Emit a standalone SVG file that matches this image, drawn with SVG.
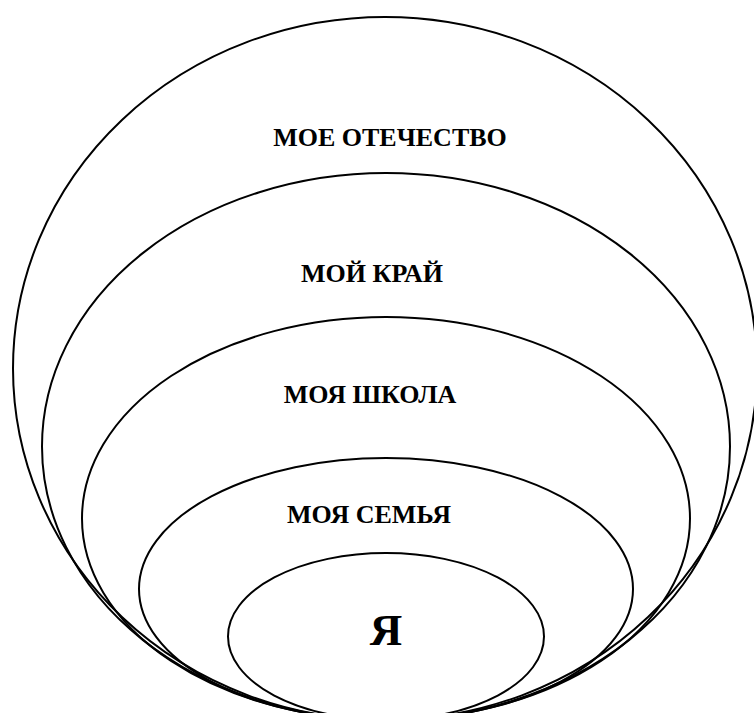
<svg xmlns="http://www.w3.org/2000/svg" width="754" height="713" viewBox="0 0 754 713">
<style>
.ring{fill:none;stroke:#000;stroke-width:2}
.lbl{font-family:"Liberation Serif","Times New Roman",serif;font-weight:bold;font-size:26px;fill:#000;text-anchor:middle}
</style>
<rect width="754" height="713" fill="#fff"/>
<g id="otechestvo">
<ellipse class="ring" cx="385" cy="368.5" rx="372" ry="351.5"/>
<text class="lbl" x="390" y="146">МОЕ ОТЕЧЕСТВО</text>
</g>
<g id="krai">
<ellipse class="ring" cx="386" cy="446.5" rx="344" ry="273.5"/>
<text class="lbl" x="372" y="282">МОЙ КРАЙ</text>
</g>
<g id="shkola">
<ellipse class="ring" cx="386" cy="518.5" rx="304" ry="201.5"/>
<text class="lbl" x="370" y="403">МОЯ ШКОЛА</text>
</g>
<g id="semya">
<ellipse class="ring" cx="386" cy="589" rx="247" ry="131"/>
<text class="lbl" x="369" y="523">МОЯ СЕМЬЯ</text>
</g>
<g id="ya">
<ellipse class="ring" cx="386" cy="636.5" rx="158" ry="83.5"/>
<text class="lbl" x="386" y="645" style="font-size:45px">Я</text>
</g>
<g id="connectors"/>
</svg>
